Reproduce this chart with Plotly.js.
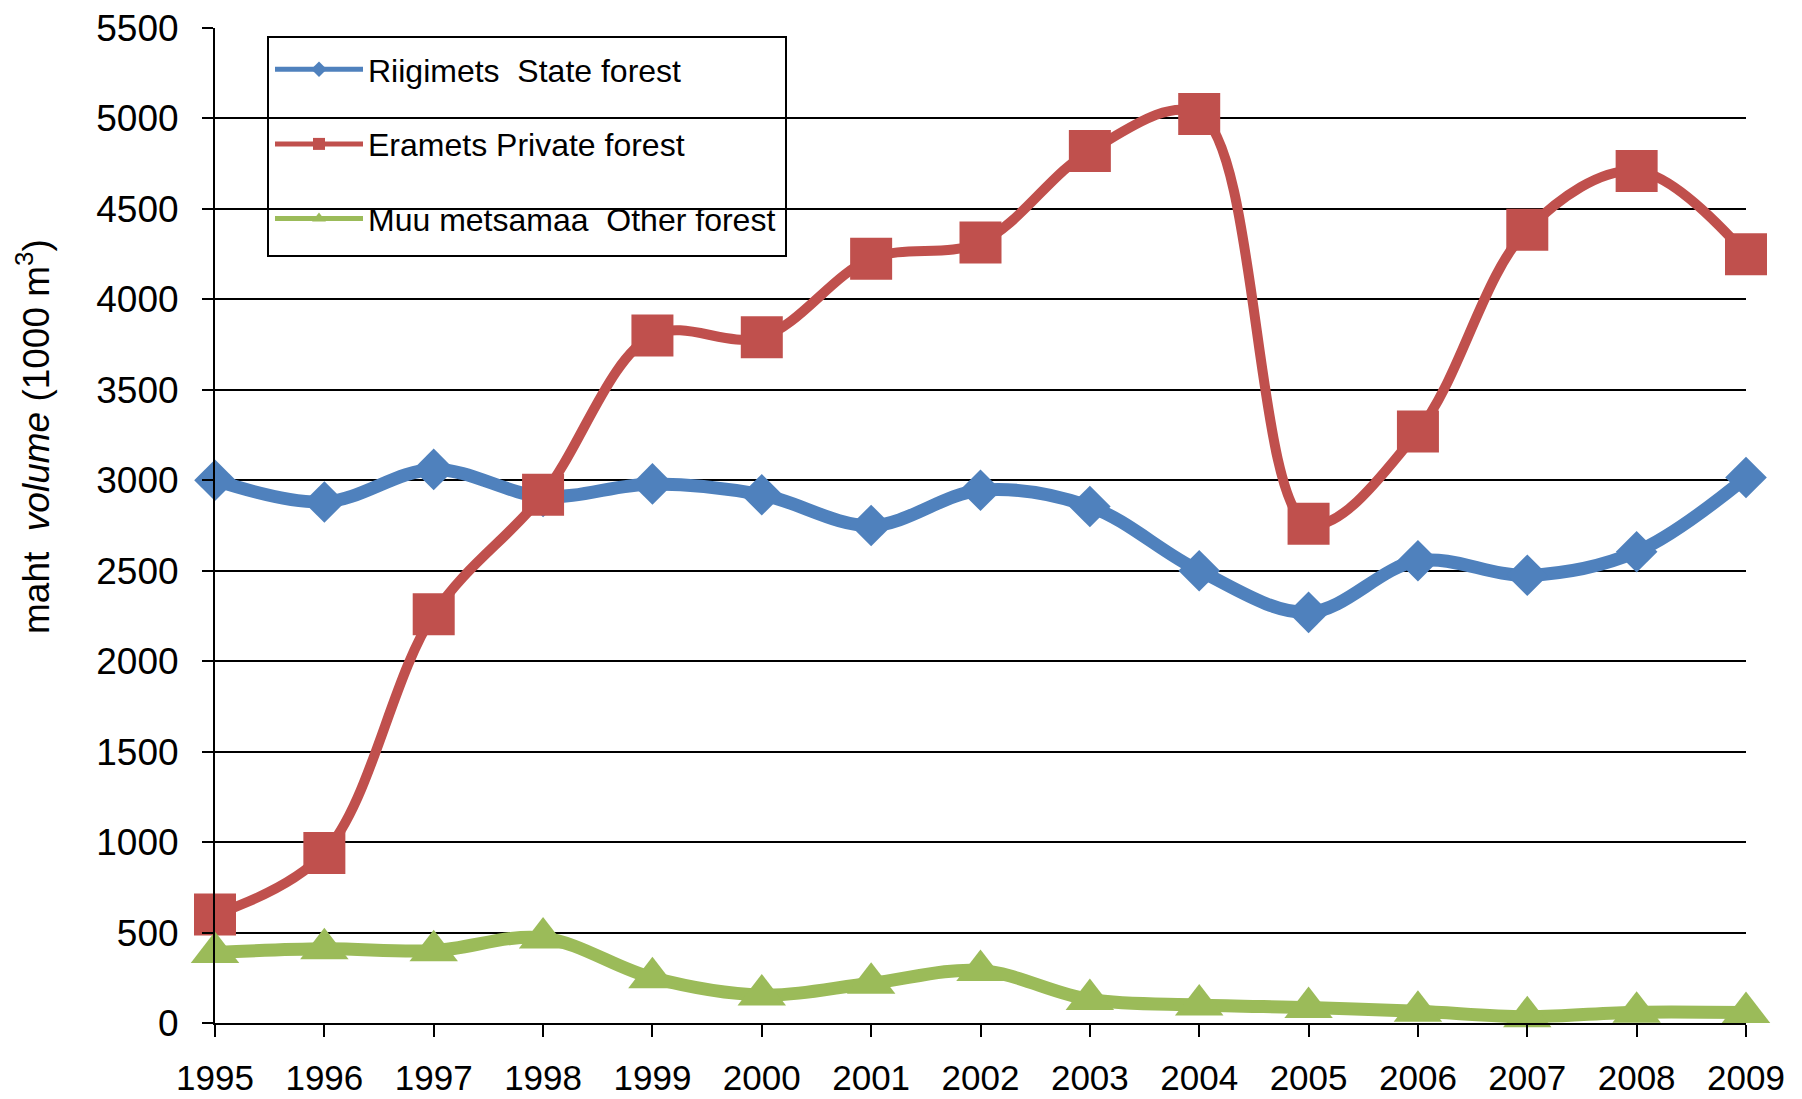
<!DOCTYPE html>
<html>
<head>
<meta charset="utf-8">
<script src="https://cdn.plot.ly/plotly-3.0.1.min.js"></script>
<style>
  html, body { margin: 0; padding: 0; background: #ffffff; }
  #chart { width: 1802px; height: 1099px; }
</style>
</head>
<body>
<div id="chart"></div>
<script>
// ---- Data ----
const years = [1995, 1996, 1997, 1998, 1999, 2000, 2001, 2002, 2003, 2004, 2005, 2006, 2007, 2008, 2009];
const stateForest   = [3000, 2880, 3060, 2910, 2980, 2920, 2750, 2945, 2855, 2500, 2270, 2555, 2475, 2605, 3015];
const privateForest = [600, 940, 2260, 2920, 3800, 3790, 4225, 4315, 4820, 5025, 2760, 3270, 4385, 4710, 4250];
const otherForest   = [390, 410, 400, 470, 250, 155, 220, 290, 130, 100, 85, 65, 35, 60, 58];

const seriesNames = [
  "Riigimets\u00a0 State forest",
  "Eramets Private forest",
  "Muu metsamaa\u00a0 Other forest"
];
const yTickVals = [0, 500, 1000, 1500, 2000, 2500, 3000, 3500, 4000, 4500, 5000, 5500];
const yTitle = "maht\u00a0 <i>volume</i> (1000 m<sup>3</sup>)";

const colors = ["#4F81BD", "#C0504D", "#9BBB59"];
const FONT = "Arial, 'Liberation Sans', sans-serif";

function trace(y, name, color, symbol, msize, lw, group) {
  return {
    x: years, y: y, name: name, type: "scatter", mode: "lines+markers",
    legendgroup: group,
    line: { color: color, width: lw, shape: "spline", smoothing: 1 },
    marker: { color: color, symbol: symbol, size: msize, line: { width: 0 } },
    cliponaxis: false
  };
}

const data = [
  trace(stateForest, seriesNames[0], colors[0], "diamond", 32, 13, "g1"),
  trace(privateForest, seriesNames[1], colors[1], "square", 42, 10, "g2"),
  trace(otherForest, seriesNames[2], colors[2], "triangle-up", 42, 13, "g3")
];

// plot area in pixels: left 215, right 1746, top 28, bottom 1023
const PL = 215, PR = 1746, PT = 28, PB = 1023;
const px = v => (v - PL) / (PR - PL);
const py = v => (PB - v) / (PB - PT);

const layout = {
  width: 1802, height: 1099,
  paper_bgcolor: "#ffffff", plot_bgcolor: "#ffffff",
  margin: { l: PL, r: 1802 - PR, t: PT, b: 1099 - PB },
  font: { family: FONT, color: "#000000" },
  showlegend: true,
  legend: {
    x: px(270), y: py(42), xanchor: "left", yanchor: "top",
    bgcolor: "rgba(0,0,0,0)", borderwidth: 0,
    font: { family: FONT, size: 32, color: "#000000" },
    itemwidth: 88, itemsizing: "constant",
    traceorder: "grouped", tracegroupgap: 30
  },
  shapes: [{
    type: "rect", xref: "paper", yref: "paper", layer: "above",
    x0: px(268), x1: px(786), y0: py(37), y1: py(256),
    line: { color: "#000000", width: 2 }, fillcolor: "rgba(0,0,0,0)"
  }],
  xaxis: {
    range: [1995, 2009],
    tickvals: years, ticktext: years.map(String),
    showgrid: false, zeroline: false,
    showline: true, linecolor: "#000000", linewidth: 2,
    ticks: "outside", ticklen: 12, tickwidth: 2, tickcolor: "#000000",
    tickfont: { family: FONT, size: 35, color: "#000000" },
    ticklabelstandoff: 11,
    fixedrange: true
  },
  yaxis: {
    range: [0, 5500],
    tickvals: yTickVals, ticktext: yTickVals.map(String),
    showgrid: true, gridcolor: "#000000", gridwidth: 2,
    zeroline: false,
    showline: true, linecolor: "#000000", linewidth: 2,
    ticks: "outside", ticklen: 11, tickwidth: 2, tickcolor: "#000000",
    tickfont: { family: FONT, size: 37, color: "#000000" },
    ticklabelstandoff: 16,
    fixedrange: true
  },
  annotations: [{
    text: yTitle, textangle: -90,
    xref: "paper", yref: "paper",
    x: px(33), y: py(437), xanchor: "center", yanchor: "middle",
    showarrow: false,
    font: { family: FONT, size: 37, color: "#000000" }
  }]
};

Plotly.newPlot("chart", data, layout, { displayModeBar: false, staticPlot: true });
</script>
</body>
</html>
